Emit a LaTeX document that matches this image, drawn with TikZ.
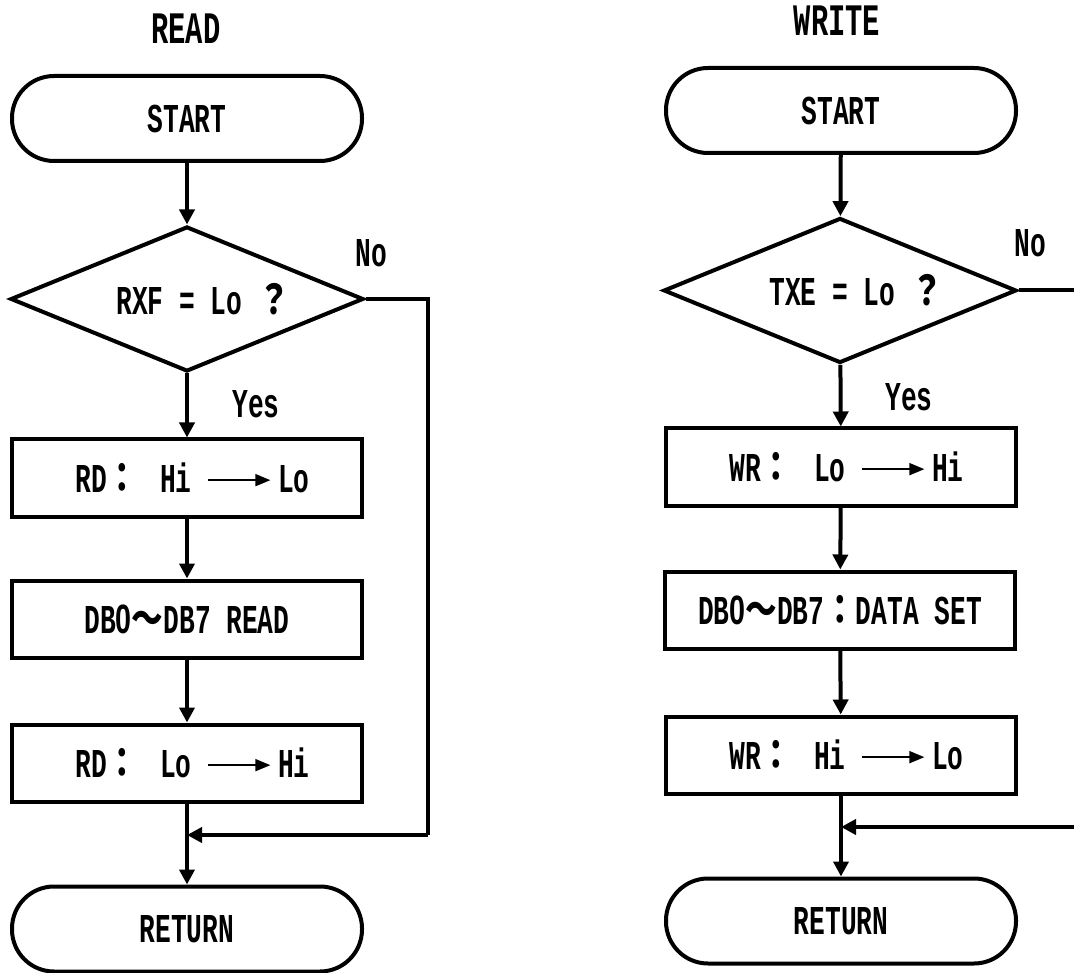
\documentclass[tikz,border=0pt]{standalone}
\usepackage{fontspec}
\newfontfamily\mfont[FakeStretch=0.64]{Liberation Mono}
\newfontfamily\cjkfont[FakeStretch=0.77]{Noto Sans CJK JP}
\newfontfamily\zfont[FakeStretch=0.7]{Liberation Sans}
\newcommand{\fw}[1]{{\cjkfont\bfseries #1}}
\newcommand{\zr}{{\zfont\bfseries 0}}
\usetikzlibrary{shapes.geometric,arrows.meta}
\newcommand{\tarr}{\tikz[x=1pt,y=1pt,baseline=-12.5pt]\draw[line width=1.8pt,-{Triangle[length=15pt,width=12pt]}] (0,0) -- (62,0);}
\begin{document}
\begin{tikzpicture}[x=1pt,y=-1pt,
  every node/.style={font=\mfont\bfseries\fontsize{41}{41}\selectfont},
  term/.style={draw,line width=4pt,rectangle,rounded corners=42pt,minimum width=350pt,minimum height=85pt,inner sep=0pt},
  proc/.style={draw,line width=4pt,rectangle,minimum width=350pt,minimum height=77pt,inner sep=0pt},
  deci/.style={draw,line width=4pt,diamond,aspect=2.4,minimum width=353pt,minimum height=145pt,inner sep=0pt},
  lbl/.style={inner sep=0pt},
  ttl/.style={inner sep=0pt,font=\mfont\bfseries\fontsize{45}{45}\selectfont},
  flow/.style={line width=4pt,-{Triangle[length=15pt,width=15pt]}},
  wire/.style={line width=4pt},
]
\useasboundingbox (0,0) rectangle (1074,973);
% ---------- READ ----------
\node[ttl] (t1) at (186,29) {READ};
\node[term] (s1) at (187,118.5) {START};
\node[deci] (d1) at (187,299) {\hspace*{32pt}RXF = Lo \fw{？}};
\node[proc] (r1) at (187,478) {\hspace*{11pt}RD\fw{：} \hspace{6pt}Hi \tarr\,Lo};
\node[proc] (b1) at (187,619) {DB\zr\fw{～}DB7 READ};
\node[proc] (r2) at (187,763) {\hspace*{11pt}RD\fw{：} \hspace{6pt}Lo \tarr\,Hi};
\node[term] (e1) at (187,929) {RETURN};
\node[lbl] (n1) at (371,253) {No};
\node[lbl] (y1) at (256,404) {Yes};
\coordinate (j1) at (187,835);
\coordinate (c1a) at (428,299);
\coordinate (c1b) at (428,835);
\draw[flow] (s1) -- (d1);
\draw[flow] (d1) -- (r1);
\draw[flow] (r1) -- (b1);
\draw[flow] (b1) -- (r2);
\draw[flow] (r2) -- (e1);
\draw[wire,line join=miter] (d1.east) -- (c1a) -- (c1b);
\draw[flow] (c1b) -- (j1);
% ---------- WRITE ----------
\node[ttl] (t2) at (837,21) {WRITE};
\node[term] (s2) at (841,110.5) {START};
\node[deci] (d2) at (840,290.5) {\hspace*{32pt}TXE = Lo \fw{？}};
\node[proc] (w1) at (841,467) {\hspace*{11pt}WR\fw{：} \hspace{6pt}Lo \tarr\,Hi};
\node[proc] (b2) at (840,610) {DB\zr\fw{～}DB7\fw{：}DATA SET};
\node[proc] (w2) at (841,755) {\hspace*{11pt}WR\fw{：} \hspace{6pt}Hi \tarr\,Lo};
\node[term] (e2) at (841,921) {RETURN};
\node[lbl] (n2) at (1030,243) {No};
\node[lbl] (y2) at (909,397) {Yes};
\coordinate (j2) at (841,827);
\coordinate (c2a) at (1074,290.5);
\coordinate (c2b) at (1074,827);
\draw[flow] (s2) -- (d2);
\draw[flow] (d2) -- (w1);
\draw[flow] (w1) -- (b2);
\draw[flow] (b2) -- (w2);
\draw[flow] (w2) -- (e2);
\draw[wire] (d2.east) -- (c2a);
\draw[flow] (c2b) -- (j2);
\end{tikzpicture}
\end{document}
